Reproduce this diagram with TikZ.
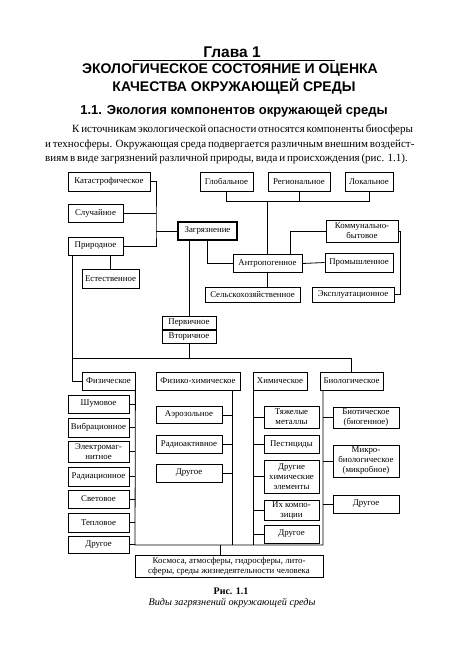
\documentclass[tikz,border=0pt]{standalone}
\usepackage{fontspec}
\setmainfont{Liberation Serif}
\setsansfont{Liberation Sans}
\usetikzlibrary{
  calc,
  positioning,
}
\tikzstyle{box} = [
  draw,
  line width=0.8pt,
  inner sep=1pt,
  align=center,
  font=\fontsize{8.8}{10}\selectfont,
]
\tikzstyle{link} = [line width=0.8pt]
\tikzstyle{heading} = [font=\sffamily\bfseries\fontsize{14}{16}\selectfont, inner sep=0pt]
\tikzstyle{textline} = [anchor=west, inner sep=0pt, font=\fontsize{11}{13}\selectfont]

\begin{document}
\begin{tikzpicture}[x=1pt, y=-1pt]
  \useasboundingbox (0, 0) rectangle (450, 658);

  % titles
  \node [heading, font=\sffamily\bfseries\fontsize{15.5}{17}\selectfont] (chapter) at (232, 52.5) {Глава 1};
  \draw [line width=0.5pt] (133, 60) -- (335, 60);
  \node [heading] (title1) at (230, 70.5) {ЭКОЛОГИЧЕСКОЕ СОСТОЯНИЕ И ОЦЕНКА};
  \node [heading] (title2) at (234, 87) {КАЧЕСТВА ОКРУЖАЮЩЕЙ СРЕДЫ};
  \node [heading, font=\sffamily\bfseries\fontsize{13}{15}\selectfont] (section) at (234, 111) {1.1. Экология компонентов окружающей среды};

  \node [textline] (par1) at (72, 130) {\makebox[316pt][s]{К источникам экологической опасности относятся компоненты биосферы}};
  \node [textline] (par2) at (45, 145) {\makebox[343pt][s]{и техносферы. Окружающая среда подвергается различным внешним воздейст-}};
  \node [textline] (par3) at (45, 159) {\makebox[343pt][s]{виям в виде загрязнений различной природы, вида и происхождения (рис. 1.1).}};

  % upper part
  \node [box, minimum width=82, minimum height=19] (kat) at (109, 181.5) {Катастрофическое};
  \node [box, minimum width=55, minimum height=18] (slu) at (95.5, 213) {Случайное};
  \node [box, minimum width=55, minimum height=18] (pri) at (95.5, 246) {Природное};
  \node [box, minimum width=57, minimum height=19] (est) at (110.5, 278.5) {Естественное};
  \node [box, line width=1.3pt, minimum width=59, minimum height=18] (zag) at (207.5, 231) {Загрязнение};

  \node [box, minimum width=53, minimum height=19] (glo) at (226.5, 181.5) {Глобальное};
  \node [box, minimum width=62, minimum height=19] (reg) at (299, 181.5) {Региональное};
  \node [box, minimum width=48, minimum height=19] (lok) at (369, 181.5) {Локальное};

  \node [box, minimum width=69, minimum height=18] (ant) at (267.5, 263.5) {Антропогенное};
  \node [box, minimum width=72, minimum height=22] (kom) at (362, 231) {Коммунально-\\бытовое};
  \node [box, minimum width=68, minimum height=19] (pro) at (359, 262.5) {Промышленное};
  \node [box, minimum width=95, minimum height=15] (sel) at (252.5, 294.5) {Сельскохозяйственное};
  \node [box, minimum width=82, minimum height=15] (eks) at (353, 294.5) {Эксплуатационное};

  \node [box, minimum width=54, minimum height=13.5] (perv) at (189, 322.75) {Первичное};
  \node [box, minimum width=54, minimum height=13.5, below=0pt of perv] (vtor) {Вторичное};

  % kinds
  \node [box, minimum width=53, minimum height=18] (fiz) at (108.5, 381) {Физическое};
  \node [box, minimum width=84, minimum height=18] (fch) at (198, 381) {Физико-химическое};
  \node [box, minimum width=54, minimum height=18] (him) at (280, 381) {Химическое};
  \node [box, minimum width=63, minimum height=18] (bio) at (351.5, 381) {Биологическое};

  \node [box, minimum width=61, minimum height=18] (shu) at (98.5, 404) {Шумовое};
  \node [box, minimum width=61, minimum height=19] (vib) at (98.5, 427.5) {Вибрационное};
  \node [box, minimum width=61, minimum height=21] (ele) at (98.5, 451.5) {Электромаг-\\нитное};
  \node [box, minimum width=61, minimum height=19] (rad) at (98.5, 476.5) {Радиационное};
  \node [box, minimum width=61, minimum height=18] (sve) at (98.5, 499) {Световое};
  \node [box, minimum width=61, minimum height=19] (tep) at (98.5, 522.5) {Тепловое};
  \node [box, minimum width=61, minimum height=17] (drf) at (98.5, 544.5) {Другое};

  \node [box, minimum width=66, minimum height=17] (aer) at (189, 415) {Аэрозольное};
  \node [box, minimum width=66, minimum height=18] (rdk) at (189, 444) {Радиоактивное};
  \node [box, minimum width=66, minimum height=18] (drc) at (189, 473) {Другое};

  \node [box, minimum width=55, minimum height=22] (tya) at (291.5, 417) {Тяжелые\\металлы};
  \node [box, minimum width=55, minimum height=18] (pes) at (291.5, 444) {Пестициды};
  \node [box, minimum width=55, minimum height=33] (dhe) at (291.5, 476.5) {Другие\\химические\\элементы};
  \node [box, minimum width=55, minimum height=20] (ikh) at (291.5, 510) {Их компо-\\зиции};
  \node [box, minimum width=55, minimum height=18] (drh) at (291.5, 534) {Другое};

  \node [box, minimum width=66, minimum height=21] (bit) at (366, 417.5) {Биотическое\\(биогенное)};
  \node [box, minimum width=66, minimum height=32] (mik) at (366, 461) {Микро-\\биологическое\\(микробное)};
  \node [box, minimum width=66, minimum height=18] (drb) at (366, 504) {Другое};

  \node [box, minimum width=188, minimum height=22] (kos) at (229, 566) {Космоса, атмосферы, гидросферы, лито-\\сферы, среды жизнедеятельности человека};

  % caption
  \node [inner sep=0pt, font=\bfseries\fontsize{10}{11}\selectfont] (fig) at (231, 591) {Рис. 1.1};
  \node [inner sep=0pt, font=\itshape\fontsize{10.2}{11}\selectfont] (figtext) at (232, 603) {Виды загрязнений окружающей среды};

  % buses
  \coordinate (lbus) at (156, 231);
  \coordinate (tbus) at (0, 201);
  \coordinate (mbus) at (73, 358);
  \coordinate (fbus) at (135, 545);
  \coordinate (cbus) at (232, 390);
  \coordinate (hbus) at (253, 390);
  \coordinate (bbus) at (323, 390);
  \coordinate (kbus) at (220, 545);

  \draw [link] (kat.east) -| (lbus) |- (pri.east);
  \draw [link] (slu.east) -- (slu.east -| lbus);
  \draw [link] (lbus) -- (zag.west);
  \draw [link] (est.north) -- (est.north |- pri.south);
  \draw [link] ($(pri.south west)+(5,0)$) |- (fiz.west);

  \draw [link] (glo.south) |- (lok.south |- tbus) -- (lok.south);
  \draw [link] (reg.south) -- (reg.south |- tbus);
  \draw [link] (ant.north) -- (ant.north |- tbus);
  \draw [link] (zag.south) |- (ant.west);
  \draw [link] ($(ant.north east)+(-12,0)$) |- (kom.west);
  \draw [link] (ant.east) -- (pro.west);
  \draw [link] (ant.south) -- (ant.south |- sel.north);
  \draw [link] (kom.east) -- ++(2,0) |- (eks.east);

  \draw [link] (perv.north) -- (perv.north |- zag.south);
  \draw [link] (vtor.south) -- (vtor.south |- mbus);
  \draw [link] (mbus) -| (bio.north);

  \draw [link] (fiz.south east) -- (fbus) -- (fbus -| bbus) -- (bbus);
  \draw [link] (cbus) -- (cbus |- fbus);
  \draw [link] (hbus) -- (hbus |- fbus);
  \draw [link] (kbus) -- (kbus |- kos.north);

  \foreach \n in {shu, vib, ele, rad, sve, tep, drf}
    \draw [link] (\n.east) -- (\n.east -| fbus);
  \foreach \n in {aer, rdk, drc}
    \draw [link] (\n.east) -- (\n.east -| cbus);
  \foreach \n in {tya, pes, dhe, ikh, drh}
    \draw [link] (\n.west) -- (\n.west -| hbus);
  \foreach \n in {bit, mik, drb}
    \draw [link] (\n.west) -- (\n.west -| bbus);
\end{tikzpicture}
\end{document}
